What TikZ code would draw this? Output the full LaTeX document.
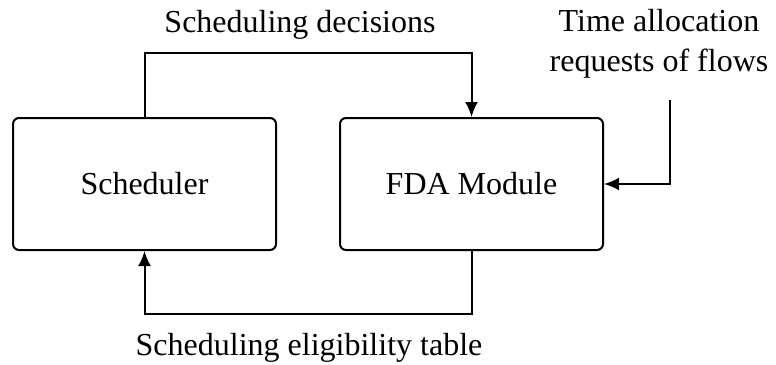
\documentclass[tikz,border=0pt]{standalone}
\usepackage{fontspec}
\setmainfont{Liberation Serif}
\usetikzlibrary{arrows.meta}
\begin{document}
\begin{tikzpicture}[x=1pt,y=-1pt,
  box/.style={draw, line width=2pt, rounded corners=6pt, minimum width=263pt, minimum height=132pt, font=\fontsize{32}{40}\selectfont},
  conn/.style={line width=2pt, -{Latex[length=15pt,width=13pt]}},
  lbl/.style={font=\fontsize{32}{40}\selectfont, inner sep=0pt, align=center}]
\useasboundingbox (0,0) rectangle (776,364);
\node[box] (sched) at (144.5,184) {Scheduler};
\node[box] (fda) at (471.5,184) {FDA Module};
\coordinate (topy) at (0,53);
\coordinate (boty) at (0,314);
\coordinate (tin) at (670,100);
\draw[conn] (sched.north) -- (sched.north |- topy) -| (fda.north);
\draw[conn] (fda.south) -- (fda.south |- boty) -| (sched.south);
\draw[conn] (tin) |- (fda.east);
\node[lbl, anchor=base] (ldec) at (300,32) {Scheduling decisions};
\node[lbl] (lreq) at (659,44) {Time allocation\\requests of flows};
\node[lbl, anchor=base] (lelig) at (309,355) {Scheduling eligibility table};
\end{tikzpicture}
\end{document}
